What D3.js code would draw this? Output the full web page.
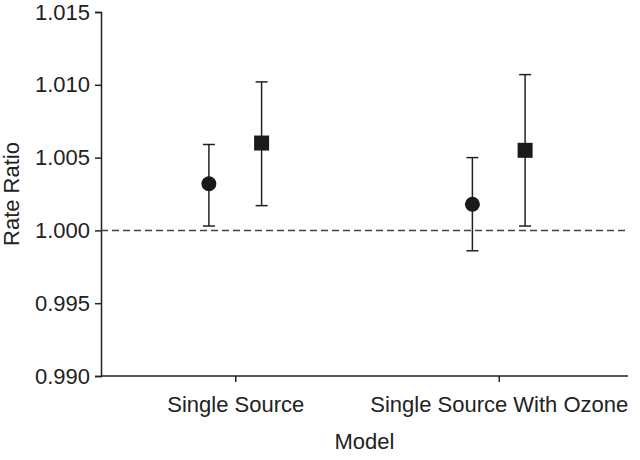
<!DOCTYPE html>
<html>
<head>
<meta charset="utf-8">
<script src="https://cdn.jsdelivr.net/npm/d3@7"></script>
<style>
  html, body { margin: 0; padding: 0; background: #fff; }
  text { font-family: "Liberation Sans", Arial, Helvetica, sans-serif; fill: #222; }
</style>
</head>
<body>
<svg id="chart" width="640" height="460"></svg>
<script>
// ---- data ----
const categories = ["Single Source", "Single Source With Ozone"];
const seriesNames = ["circle", "square"];
const circleEst   = [1.0032, 1.0018];
const circleLower = [1.0003, 0.9986];
const circleUpper = [1.0059, 1.0050];
const squareEst   = [1.0060, 1.0055];
const squareLower = [1.0017, 1.0003];
const squareUpper = [1.0102, 1.0107];
const yTicks = [0.990, 0.995, 1.000, 1.005, 1.010, 1.015];
const referenceValue = 1.000;

const svg = d3.select("#chart");
const mLeft = 101, mRight = 628, mTop = 12, mBottom = 376;

const x = d3.scalePoint().domain(categories).range([mLeft + 2.5, mRight + 2.5]).padding(0.5);
const y = d3.scaleLinear().domain([0.990, 1.015]).range([mBottom, mTop]);
const offset = x.step() * 0.1;

// axes
const yAxis = d3.axisLeft(y).tickValues(yTicks).tickFormat(d3.format(".3f")).tickSizeOuter(0).tickSize(6).tickPadding(5);
const gy = svg.append("g").attr("transform", `translate(${mLeft},0)`).call(yAxis);
const xAxis = d3.axisBottom(x).tickSizeOuter(0).tickSize(6).tickPadding(14);
const gx = svg.append("g").attr("transform", `translate(0,${mBottom})`).call(xAxis);
[gx, gy].forEach(g => {
  g.select(".domain").attr("stroke", "#222").attr("stroke-width", 1.5);
  g.selectAll(".tick line").attr("stroke", "#222").attr("stroke-width", 1.5);
  g.selectAll(".tick text").attr("font-size", 22).attr("fill", "#222")
    .style("font-family", '"Liberation Sans", Arial, sans-serif');
});
gx.select(".domain").attr("d", `M${mLeft},0H${mRight}`);

// reference line
svg.append("line")
  .attr("x1", mLeft).attr("x2", mRight - 3)
  .attr("y1", y(referenceValue)).attr("y2", y(referenceValue))
  .attr("stroke", "#444").attr("stroke-width", 1.5).attr("stroke-dasharray", "7,4");

// error bars + markers
const series = [
  { name: "circle", est: circleEst, lo: circleLower, hi: circleUpper, dx: -offset },
  { name: "square", est: squareEst, lo: squareLower, hi: squareUpper, dx: offset }
];
const capW = 6;
series.forEach(s => {
  categories.forEach((c, i) => {
    const cx = x(c) + s.dx;
    const g = svg.append("g");
    g.append("line").attr("x1", cx).attr("x2", cx).attr("y1", y(s.lo[i])).attr("y2", y(s.hi[i]))
      .attr("stroke", "#222").attr("stroke-width", 1.5);
    [s.lo[i], s.hi[i]].forEach(v => {
      g.append("line").attr("x1", cx - capW).attr("x2", cx + capW).attr("y1", y(v)).attr("y2", y(v))
        .attr("stroke", "#222").attr("stroke-width", 1.5);
    });
    if (s.name === "circle") {
      g.append("circle").attr("cx", cx).attr("cy", y(s.est[i])).attr("r", 7.5).attr("fill", "#1a1a1a");
    } else {
      g.append("rect").attr("x", cx - 7.5).attr("y", y(s.est[i]) - 7.5).attr("width", 15).attr("height", 15).attr("fill", "#1a1a1a");
    }
  });
});

// axis titles
svg.append("text").attr("x", (mLeft + mRight) / 2).attr("y", 449).attr("text-anchor", "middle")
  .attr("font-size", 22).text("Model");
svg.append("text").attr("transform", `translate(19,${(mTop + mBottom) / 2}) rotate(-90)`)
  .attr("text-anchor", "middle").attr("font-size", 22).text("Rate Ratio");
</script>
</body>
</html>
